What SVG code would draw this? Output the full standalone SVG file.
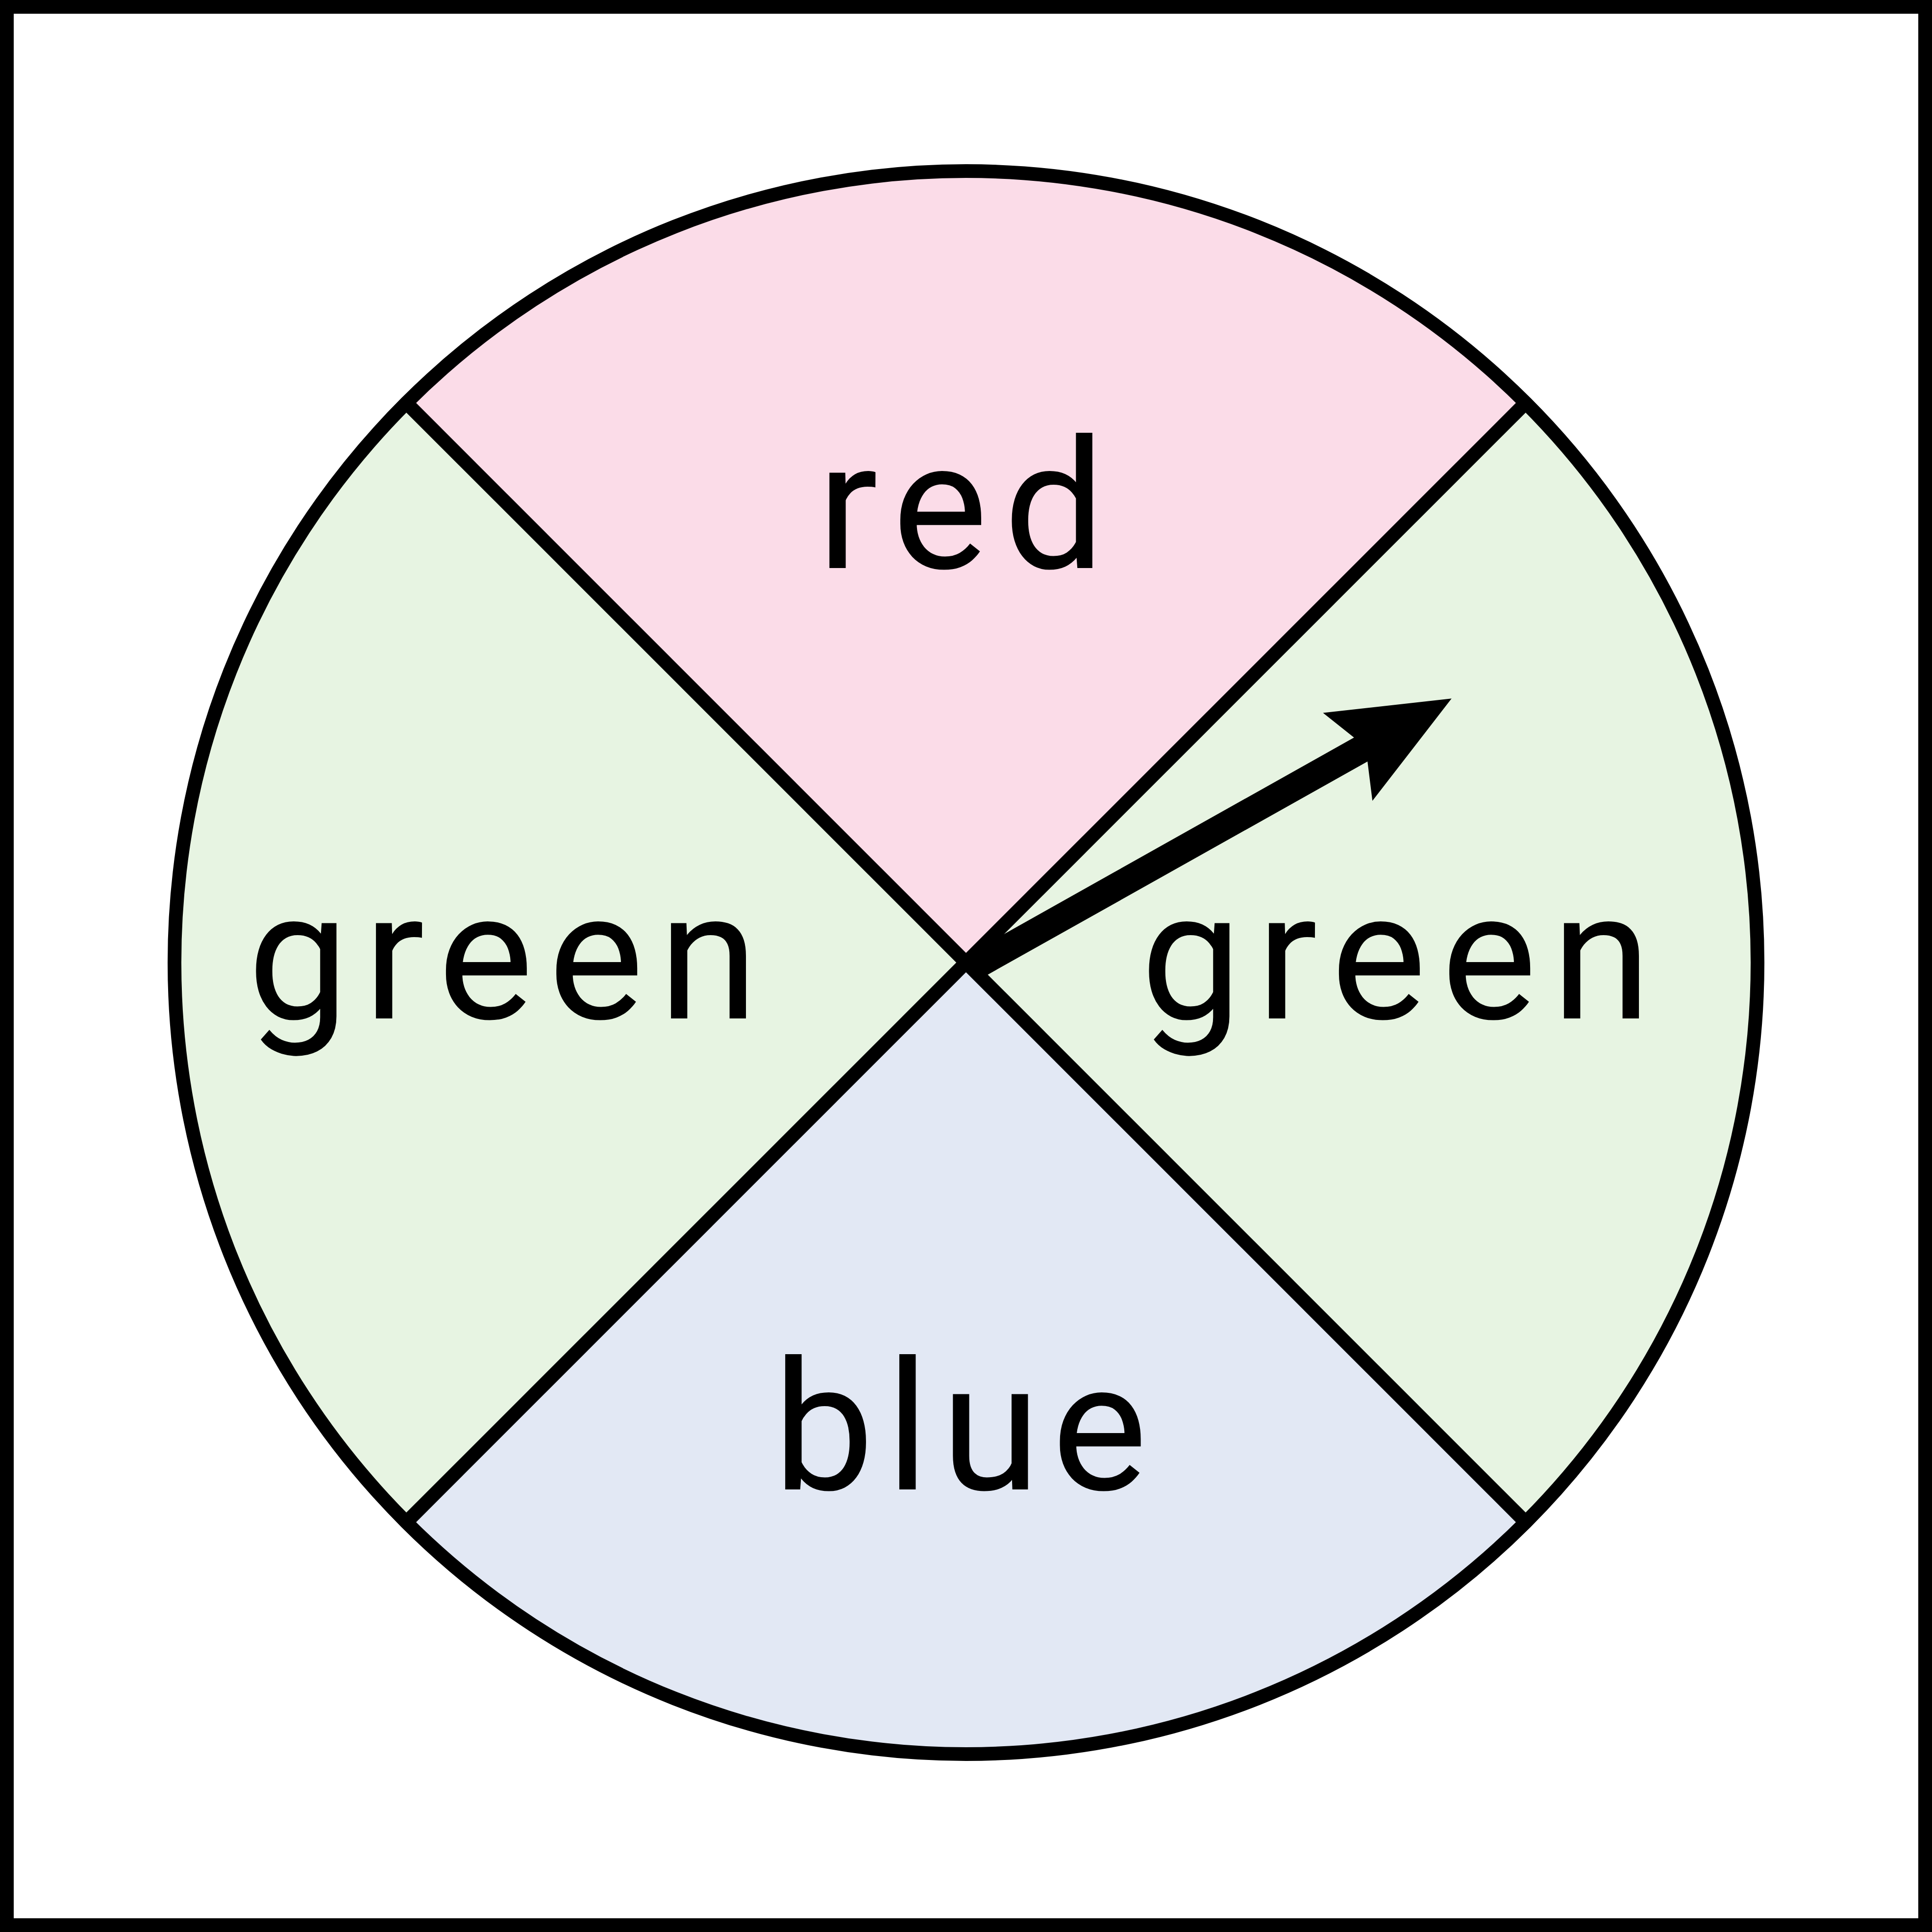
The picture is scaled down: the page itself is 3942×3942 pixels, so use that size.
<svg xmlns="http://www.w3.org/2000/svg" width="3942" height="3942" viewBox="0 0 3942 3942">
  <style>
    .lbl { font-family: Roboto, "Liberation Sans", sans-serif; font-size: 368px; fill: #000; text-anchor: middle; }
    .edge { stroke: #000; stroke-width: 28; fill: none; }
  </style>
  <rect x="0" y="0" width="3942" height="3942" fill="#fff"/>
  <rect id="frame" x="14" y="14" width="3914" height="3914" class="edge"/>
  <g id="sector-red">
    <path d="M1971,1964 L829,822 A1615,1615 0 0,1 3113,822 Z" fill="#FBDCE8"/>
    <text class="lbl" x="1961" y="1159" textLength="588" lengthAdjust="spacing">red</text>
  </g>
  <g id="sector-green-right">
    <path d="M1971,1964 L3113,822 A1615,1615 0 0,1 3113,3106 Z" fill="#E7F4E2"/>
    <text class="lbl" x="2848" y="2078" textLength="1042" lengthAdjust="spacing">green</text>
  </g>
  <g id="sector-blue">
    <path d="M1971,1964 L3113,3106 A1615,1615 0 0,1 829,3106 Z" fill="#E2E8F4"/>
    <text class="lbl" x="1959" y="3039" textLength="764" lengthAdjust="spacing">blue</text>
  </g>
  <g id="sector-green-left">
    <path d="M1971,1964 L829,3106 A1615,1615 0 0,1 829,822 Z" fill="#E7F4E2"/>
    <text class="lbl" x="1026" y="2078" textLength="1042" lengthAdjust="spacing">green</text>
  </g>
  <g id="connectors">
    <line class="edge" x1="829" y1="822" x2="3113" y2="3106"/>
    <line class="edge" x1="3113" y1="822" x2="829" y2="3106"/>
    <circle class="edge" cx="1971" cy="1964" r="1615"/>
  </g>
  <g id="pointer" transform="translate(1979,1977) rotate(-29.31)">
    <line x1="0" y1="0" x2="930" y2="0" stroke="#000" stroke-width="56"/>
    <polygon points="1127,0 884,-103 926,0 884,103" fill="#000"/>
  </g>
</svg>
